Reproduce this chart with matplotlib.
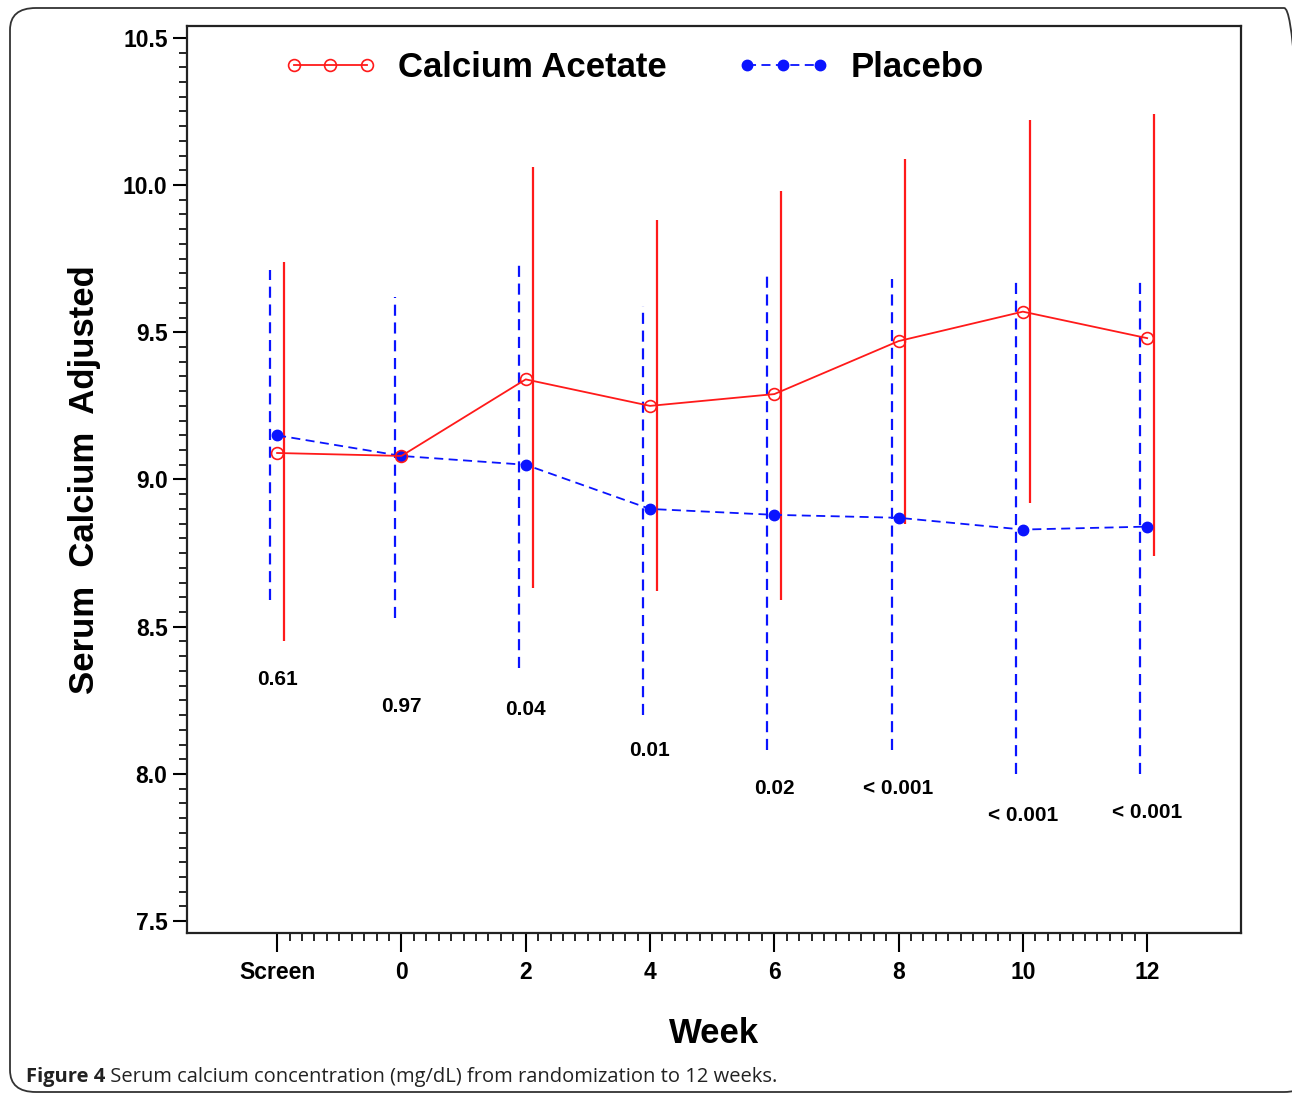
import numpy as np
import matplotlib
matplotlib.use('Agg')
from matplotlib import pyplot as plt
from matplotlib.patches import FancyBboxPatch
from matplotlib.ticker import MultipleLocator, FixedLocator


# Data
weeks = [-2, 0, 2, 4, 6, 8, 10, 12]
week_labels = ['Screen', '0', '2', '4', '6', '8', '10', '12']

acetate_mean = [9.09, 9.08, 9.34, 9.25, 9.29, 9.47, 9.57, 9.48]
acetate_low = [8.45, np.nan, 8.63, 8.62, 8.59, 8.85, 8.92, 8.74]
acetate_high = [9.74, np.nan, 10.06, 9.88, 9.98, 10.09, 10.22, 10.24]

placebo_mean = [9.15, 9.08, 9.05, 8.90, 8.88, 8.87, 8.83, 8.84]
placebo_low = [8.59, 8.53, 8.36, 8.20, 8.08, 8.08, 8.00, 8.00]
placebo_high = [9.71, 9.62, 9.74, 9.59, 9.69, 9.68, 9.67, 9.68]

p_values = ['0.61', '0.97', '0.04', '0.01', '0.02', '< 0.001', '< 0.001', '< 0.001']
p_y = [8.32, 8.23, 8.22, 8.08, 7.95, 7.95, 7.86, 7.87]

# Style
fonts = ['Liberation Sans Narrow', 'Liberation Sans', 'DejaVu Sans']
plt.rcParams['font.family'] = fonts
red = '#ff1a1a'
blue = '#0a14ff'
offset = 0.11  # error bar shift (weeks)

fig = plt.figure(figsize=(12.92, 10.96), dpi=100)
ax = fig.add_axes([187 / 1292, 1 - 933 / 1096, (1241 - 187) / 1292, (933 - 26) / 1096])

# Error bars (lines without caps)
ax.vlines(np.array(weeks) + offset, acetate_low, acetate_high, colors=red, linewidth=1.6)
ax.vlines(np.array(weeks) - offset, placebo_low, placebo_high, colors=blue,
          linewidth=1.6, linestyles=(0, (5, 3)))

# Means
ax.plot(weeks, placebo_mean, color=blue, linestyle=(0, (5, 3)), linewidth=1.3,
        marker='o', markersize=7.5, markerfacecolor=blue, markeredgecolor=blue,
        label='Placebo', zorder=3)
ax.plot(weeks, acetate_mean, color=red, linewidth=1.3, marker='o', markersize=8.5,
        markerfacecolor='none', markeredgecolor=red, markeredgewidth=1.2,
        label='Calcium Acetate', zorder=4)

# p-values
for w, p, y in zip(weeks, p_values, p_y):
    ax.text(w, y, p, ha='center', va='center', fontsize=15, fontweight='bold')

# Axes
ax.set_xlim(-3.45, 13.51)
ax.set_ylim(7.46, 10.54)
ax.xaxis.set_major_locator(FixedLocator(weeks))
ax.set_xticklabels(week_labels)
ax.xaxis.set_minor_locator(FixedLocator(np.arange(-2, 12.01, 0.2)))
ax.yaxis.set_major_locator(MultipleLocator(0.5))
ax.yaxis.set_minor_locator(MultipleLocator(0.05))
ax.yaxis.set_major_formatter(matplotlib.ticker.FormatStrFormatter('%.1f'))

ax.tick_params(axis='x', which='major', direction='out', length=14, width=1.5, pad=6,
               labelsize=16.5)
ax.tick_params(axis='x', which='minor', direction='out', length=6, width=1.2)
ax.tick_params(axis='y', which='major', direction='out', length=10, width=1.5, pad=4,
               labelsize=16.5)
ax.tick_params(axis='y', which='minor', direction='out', length=6, width=1.2)
for lbl in ax.get_xticklabels() + ax.get_yticklabels():
    lbl.set_fontweight('bold')
for sp in ax.spines.values():
    sp.set_linewidth(1.6)
    sp.set_color('#222222')

ax.set_ylabel('Serum  Calcium  Adjusted', fontsize=25, fontweight='bold', labelpad=16)
ax.set_xlabel('Week', fontsize=25, fontweight='bold', labelpad=24)

# Legend
handles, labels = ax.get_legend_handles_labels()
ax.legend(handles[::-1], labels[::-1], loc='upper left', bbox_to_anchor=(0.062, 1.007),
          ncol=2, frameon=False, numpoints=3, handlelength=2.7, handletextpad=0.6,
          columnspacing=2.0, prop={'family': fonts, 'weight': 'bold', 'size': 25})

# Caption
cap = fig.text(26 / 1292, 1 - 1077 / 1096, 'Figure 4', fontsize=14.5, fontweight='bold',
               family=['Open Sans', 'DejaVu Sans'], va='center', color='#222222')
ax.annotate(' Serum calcium concentration (mg/dL) from randomization to 12 weeks.',
            xy=(1, 0), xycoords=cap, va='bottom', ha='left', fontsize=14.5,
            family=['Open Sans', 'DejaVu Sans'], color='#222222', annotation_clip=False)

# Outer rounded frame
frame = FancyBboxPatch((10 / 1292, 1 - 1092 / 1096), 1300 / 1292, (1092 - 8) / 1096,
                       boxstyle='round,pad=0,rounding_size=0.02', transform=fig.transFigure,
                       fill=False, edgecolor='#333333', linewidth=1.3, clip_on=False)
fig.add_artist(frame)

fig.savefig('out.png', dpi=100)
